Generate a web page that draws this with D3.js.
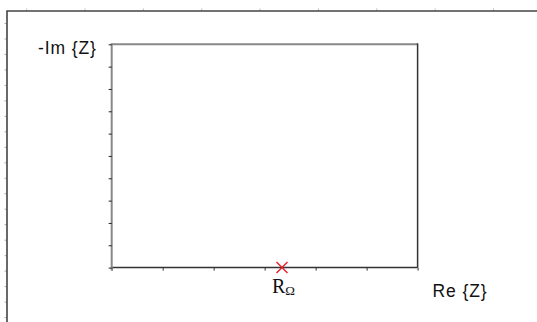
<!DOCTYPE html>
<html>
<head>
<meta charset="utf-8">
<script src="https://cdn.jsdelivr.net/npm/d3@7"></script>
<style>
  html, body { margin: 0; padding: 0; background: #fff; }
  svg { display: block; }
</style>
</head>
<body>
<svg id="chart" width="537" height="322"></svg>
<script>
// Nyquist plane schematic: empty impedance axes with the ohmic resistance marked
const reTicks = [0, 1, 2, 3, 4, 5, 6];          // Re{Z} tick positions (arbitrary units)
const imTicks = [0, 1, 2, 3, 4, 5, 6, 7, 8, 9, 10]; // -Im{Z} tick positions
const points = [{ label: "R", sub: "Ω", re: 3.34, im: 0 }];
const axisLabels = { x: "Re {Z}", y: "-Im {Z}" };
// outer frame graduations
const frameTopTicks = [0, 1, 2, 3, 4, 5, 6, 7, 8];
const frameLeftTicks = d3.range(0, 20);

const svg = d3.select("#chart");

// outer frame
const fx = d3.scaleLinear().domain([0, 8]).range([26.7, 493.5]);
const fy = d3.scaleLinear().domain([0, 19]).range([23.45, 317.6]);

svg.append("g").selectAll("line").data(frameTopTicks).join("line")
  .attr("x1", d => fx(d)).attr("x2", d => fx(d))
  .attr("y1", 8.5).attr("y2", 10.5)
  .attr("stroke", "#bbb").attr("stroke-width", 1);
svg.append("g").selectAll("line").data(frameLeftTicks).join("line")
  .attr("x1", 4.5).attr("x2", 6.5)
  .attr("y1", d => fy(d)).attr("y2", d => fy(d))
  .attr("stroke", "#aaa").attr("stroke-width", 1);

svg.append("path")
  .attr("d", "M537,11 H7 V322")
  .attr("fill", "none").attr("stroke", "#444").attr("stroke-width", 1.6);

// inner plot
const x = d3.scaleLinear().domain([0, 6]).range([111.7, 417.6]);
const y = d3.scaleLinear().domain([0, 10]).range([267.6, 44.3]);

// top (gray) and right (dark) borders
svg.append("line")
  .attr("x1", x(0)).attr("x2", x(6)).attr("y1", y(10)).attr("y2", y(10))
  .attr("stroke", "#888").attr("stroke-width", 2);
svg.append("line")
  .attr("x1", x(6)).attr("x2", x(6)).attr("y1", y(10) - 1).attr("y2", y(0))
  .attr("stroke", "#333").attr("stroke-width", 1.5);

const xAxis = svg.append("g")
  .attr("transform", `translate(0,${y(0)})`)
  .call(d3.axisBottom(x).tickValues(reTicks).tickSize(3).tickFormat(""));
xAxis.select(".domain").attr("stroke", "#333").attr("stroke-width", 1.5)
  .attr("d", `M${x(0)},0H${x(6)}`);
xAxis.selectAll(".tick line").attr("stroke", "#333");

const yAxis = svg.append("g")
  .attr("transform", `translate(${x(0)},0)`)
  .call(d3.axisLeft(y).tickValues(imTicks).tickSize(3).tickFormat(""));
yAxis.selectAll(".tick line").attr("stroke", "#222");
yAxis.select(".domain").attr("stroke", "#888").attr("stroke-width", 2)
  .attr("d", `M0,${y(10) - 1}V${y(0) + 3}`);

// axis titles
svg.append("text")
  .attr("x", 38).attr("y", 53.5)
  .attr("font-family", "Liberation Sans, Arial, sans-serif")
  .attr("font-size", 17.5).attr("letter-spacing", 0.9).attr("fill", "#111")
  .text(axisLabels.y);
svg.append("text")
  .attr("x", 432.5).attr("y", 296.5)
  .attr("font-family", "Liberation Sans, Arial, sans-serif")
  .attr("font-size", 17.5).attr("letter-spacing", 0.9).attr("fill", "#111")
  .text(axisLabels.x);

// marked point(s)
const s = 5.5;
const mk = svg.append("g").selectAll("g").data(points).join("g")
  .attr("transform", d => `translate(${x(d.re)},${y(d.im)})`);
mk.append("path")
  .attr("d", `M${-s},${-s}L${s},${s}M${-s},${s}L${s},${-s}`)
  .attr("stroke", "#e8202a").attr("stroke-width", 1.4).attr("fill", "none");

const lbl = svg.append("g").selectAll("text").data(points).join("text")
  .attr("x", d => x(d.re) - 10).attr("y", 293)
  .attr("font-family", "Liberation Serif, Times New Roman, serif")
  .attr("fill", "#111");
lbl.append("tspan").attr("font-size", 20).text(d => d.label);
lbl.append("tspan").attr("font-size", 13).attr("dy", 2).text(d => d.sub);
</script>
</body>
</html>
